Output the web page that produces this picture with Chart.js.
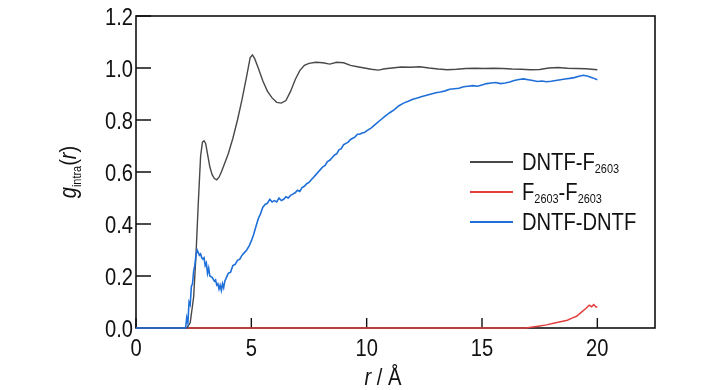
<!DOCTYPE html>
<html>
<head>
<meta charset="utf-8">
<script src="https://cdn.jsdelivr.net/npm/chart.js@4/dist/chart.umd.min.js"></script>
<style>
  html, body { margin: 0; padding: 0; background: #fff; }
  #wrap { width: 728px; height: 390px; position: relative; }
</style>
</head>
<body>
<div id="wrap"><canvas id="rdf"></canvas></div>
<script>
const FONT = '"Liberation Sans", Arial, sans-serif';
const SX = 0.84; // the source uses a narrow Helvetica, squeeze text horizontally

const xTicks = [0, 5, 10, 15, 20];
const yTicks = [0, 0.2, 0.4, 0.6, 0.8, 1.0, 1.2];

/* DNTF-F2603 */
const rBlack = [0, 2.2, 2.35, 2.5, 2.6, 2.7, 2.8, 2.88, 2.95, 3.02, 3.1, 3.2, 3.3, 3.4, 3.5, 3.6, 3.7, 3.85, 4.0, 4.2,
  4.4, 4.6, 4.8, 4.95, 5.05, 5.15, 5.3, 5.5, 5.7, 5.9, 6.1, 6.3, 6.5, 6.7, 6.9, 7.1, 7.3, 7.5, 7.8, 8.1,
  8.4, 8.7, 9.0, 9.3, 9.6, 9.9, 10.2, 10.5, 10.8, 11.1, 11.5, 11.9, 12.3, 12.7, 13.1, 13.5, 13.9, 14.3, 14.7, 15.1,
  15.5, 15.9, 16.3, 16.7, 17.1, 17.5, 17.9, 18.3, 18.7, 19.1, 19.5, 20.0];
const gBlack = [0, 0, 0.02, 0.12, 0.28, 0.48, 0.66, 0.715, 0.72, 0.71, 0.67, 0.62, 0.59, 0.575, 0.57, 0.58, 0.60, 0.635, 0.67, 0.73,
  0.80, 0.88, 0.97, 1.04, 1.05, 1.035, 1.0, 0.95, 0.91, 0.885, 0.868, 0.865, 0.875, 0.91, 0.955, 0.99, 1.01, 1.018, 1.022, 1.02,
  1.015, 1.022, 1.02, 1.01, 1.005, 1.0, 0.995, 0.992, 0.997, 1.0, 1.004, 1.003, 1.005, 1.0, 0.996, 0.993, 0.995, 0.998, 0.999, 0.998,
  0.999, 0.998, 0.996, 0.995, 0.993, 0.994, 1.0, 1.002, 0.999, 0.998, 0.997, 0.993];

/* F2603-F2603 */
const rRed = [0, 16.9, 17.2, 17.5, 17.8, 18.1, 18.4, 18.7, 18.9, 19.1, 19.3, 19.5, 19.65, 19.75, 19.85, 19.95, 20.0];
const gRed = [0, 0, 0.004, 0.008, 0.012, 0.018, 0.024, 0.03, 0.038, 0.045, 0.06, 0.075, 0.088, 0.082, 0.09, 0.08, 0.082];

/* DNTF-DNTF */
const rBlue = [0, 2.15, 2.2, 2.25, 2.3, 2.35, 2.4, 2.45, 2.5, 2.55, 2.6, 2.65, 2.7, 2.75, 2.8, 2.85, 2.9, 2.95, 3.0, 3.05,
  3.1, 3.15, 3.2, 3.3, 3.4, 3.45, 3.5, 3.55, 3.6, 3.65, 3.7, 3.75, 3.8, 3.85, 3.9, 4.0, 4.1, 4.2, 4.3, 4.4,
  4.5, 4.6, 4.7, 4.8, 4.9, 5.0, 5.1, 5.2, 5.3, 5.4, 5.5, 5.6, 5.7, 5.8, 5.9, 6.0, 6.1, 6.2, 6.3, 6.4,
  6.5, 6.6, 6.7, 6.8, 6.9, 7.0, 7.1, 7.2, 7.3, 7.4, 7.5, 7.6, 7.7, 7.8, 7.9, 8.0, 8.1, 8.2, 8.3, 8.4,
  8.5, 8.6, 8.7, 8.8, 8.9, 9.0, 9.1, 9.2, 9.3, 9.4, 9.5, 9.6, 9.7, 9.8, 9.9, 10.0, 10.2, 10.4, 10.6, 10.8,
  11.0, 11.2, 11.4, 11.6, 11.8, 12.0, 12.2, 12.4, 12.6, 12.8, 13.0, 13.2, 13.4, 13.6, 13.8, 14.0, 14.2, 14.4, 14.6, 14.8,
  15.0, 15.2, 15.4, 15.6, 15.8, 16.0, 16.2, 16.4, 16.6, 16.8, 17.0, 17.2, 17.4, 17.6, 17.8, 18.0, 18.2, 18.4, 18.6, 18.8,
  19.0, 19.2, 19.4, 19.6, 19.8, 20.0];
const gBlue = [0, 0, 0.04, 0.02, 0.10, 0.09, 0.16, 0.17, 0.22, 0.24, 0.28, 0.30, 0.29, 0.28, 0.285, 0.27, 0.265, 0.27, 0.24, 0.25,
  0.21, 0.23, 0.20, 0.195, 0.18, 0.185, 0.165, 0.17, 0.15, 0.165, 0.145, 0.17, 0.155, 0.18, 0.19, 0.21, 0.215, 0.24, 0.245, 0.26,
  0.265, 0.28, 0.29, 0.30, 0.315, 0.335, 0.36, 0.39, 0.42, 0.44, 0.465, 0.475, 0.48, 0.495, 0.485, 0.49, 0.485, 0.50, 0.49, 0.495,
  0.505, 0.50, 0.51, 0.515, 0.52, 0.53, 0.525, 0.54, 0.545, 0.555, 0.56, 0.57, 0.58, 0.59, 0.60, 0.61, 0.62, 0.625, 0.64, 0.645,
  0.655, 0.665, 0.67, 0.685, 0.69, 0.705, 0.71, 0.715, 0.725, 0.73, 0.735, 0.745, 0.745, 0.75, 0.752, 0.758, 0.77, 0.785, 0.80, 0.815,
  0.828, 0.84, 0.855, 0.865, 0.872, 0.88, 0.885, 0.89, 0.895, 0.90, 0.905, 0.908, 0.912, 0.918, 0.92, 0.922, 0.928, 0.93, 0.932, 0.93,
  0.935, 0.94, 0.942, 0.944, 0.94, 0.942, 0.946, 0.952, 0.956, 0.958, 0.955, 0.952, 0.948, 0.95, 0.947, 0.949, 0.952, 0.955, 0.958, 0.96,
  0.963, 0.968, 0.972, 0.968, 0.962, 0.955];

const series = [
  { parts: [['DNTF-F', 0], ['2603', 1]], color: '#484848', r: rBlack, g: gBlack, order: 2, width: 1.4 },
  { parts: [['F', 0], ['2603', 1], ['-F', 0], ['2603', 1]], color: '#e2403f', r: rRed, g: gRed, order: 3, width: 1.5 },
  { parts: [['DNTF-DNTF', 0]], color: '#1f6fd9', r: rBlue, g: gBlue, order: 1, width: 1.6 }
];

function pts(xs, ys){ return xs.map((x, i) => ({ x, y: ys[i] })); }

/* squeezed text; returns advance width */
function txt(ctx, s, x, y, size, style, align){
  ctx.font = (style || '') + ' ' + size + 'px ' + FONT;
  const w = ctx.measureText(s).width * SX;
  let ox = x;
  if (align === 'right') ox = x - w;
  else if (align === 'center') ox = x - w / 2;
  ctx.save();
  ctx.translate(ox, y);
  ctx.scale(SX, 1);
  ctx.textAlign = 'left';
  ctx.textBaseline = 'alphabetic';
  ctx.fillText(s, 0, 0);
  ctx.restore();
  return w;
}
function measure(ctx, s, size, style){
  ctx.font = (style || '') + ' ' + size + 'px ' + FONT;
  return ctx.measureText(s).width * SX;
}

/* frame + inward ticks under the curves, text on top */
const framePlugin = {
  id: 'frame',
  beforeDatasetsDraw(chart){
    const { ctx, chartArea: a, scales: { x, y } } = chart;
    ctx.save();
    ctx.strokeStyle = '#111';
    ctx.lineWidth = 1.6;
    ctx.strokeRect(a.left, a.top, a.right - a.left, a.bottom - a.top);
    ctx.lineWidth = 1.4;
    ctx.beginPath();
    xTicks.forEach(v => { const px = x.getPixelForValue(v); ctx.moveTo(px, a.bottom); ctx.lineTo(px, a.bottom - 10); });
    yTicks.forEach(v => { const py = y.getPixelForValue(v); ctx.moveTo(a.left, py); ctx.lineTo(a.left + 15, py); });
    ctx.stroke();
    ctx.restore();
  },
  afterDraw(chart){
    const { ctx, chartArea: a, scales: { x, y } } = chart;
    ctx.save();
    ctx.fillStyle = '#111';

    /* tick labels */
    yTicks.forEach(v => txt(ctx, v.toFixed(1), a.left - 3, y.getPixelForValue(v) + 8.5, 24, '', 'right'));
    xTicks.forEach(v => txt(ctx, String(v), x.getPixelForValue(v), a.bottom + 28, 24, '', 'center'));

    /* x title: r / Å */
    const tw = measure(ctx, 'r', 24, 'italic') + measure(ctx, ' / Å', 24, '');
    let sx = 383 - tw / 2;
    sx += txt(ctx, 'r', sx, 385, 24, 'italic');
    txt(ctx, ' / Å', sx, 385, 24, '');

    /* y title: g_intra(r), rotated */
    ctx.save();
    ctx.translate(76, 172);
    ctx.rotate(-Math.PI / 2);
    const yt = [['g', 24, 'italic', 0], ['intra', 13, '', 5], ['(', 24, '', 0], ['r', 24, 'italic', 0], [')', 24, '', 0]];
    let total = 0;
    yt.forEach(p => { total += measure(ctx, p[0], p[1], p[2]); });
    let cx = -total / 2;
    yt.forEach(p => { cx += txt(ctx, p[0], cx, p[3], p[1], p[2]); });
    ctx.restore();

    /* legend */
    const rows = [162, 192, 222];
    series.forEach((s, i) => {
      const yy = rows[i];
      ctx.strokeStyle = s.color;
      ctx.lineWidth = 1.8;
      ctx.beginPath(); ctx.moveTo(470, yy); ctx.lineTo(513, yy); ctx.stroke();
      let tx = 522;
      s.parts.forEach(([t, isSub]) => {
        tx += isSub ? txt(ctx, t, tx, yy + 11, 13, '') : txt(ctx, t, tx, yy + 8, 24, '');
      });
    });
    ctx.restore();
  }
};

new Chart(document.getElementById('rdf'), {
  type: 'line',
  data: {
    datasets: series.map(s => ({
      data: pts(s.r, s.g),
      borderColor: s.color,
      borderWidth: s.width,
      pointRadius: 0,
      tension: 0,
      fill: false,
      order: s.order,
      clip: 4
    }))
  },
  options: {
    responsive: true,
    maintainAspectRatio: false,
    animation: false,
    events: [],
    layout: { padding: { top: 16, right: 73, left: 0, bottom: 0 } },
    plugins: { legend: { display: false }, tooltip: { enabled: false } },
    scales: {
      x: {
        type: 'linear', min: 0, max: 22.5,
        afterBuildTicks: sc => { sc.ticks = xTicks.map(v => ({ value: v })); },
        afterFit: sc => { sc.height = 62; },
        grid: { display: false, drawTicks: false },
        border: { display: false },
        ticks: { display: false }
      },
      y: {
        type: 'linear', min: 0, max: 1.2,
        afterBuildTicks: sc => { sc.ticks = yTicks.map(v => ({ value: v })); },
        afterFit: sc => { sc.width = 136; },
        grid: { display: false, drawTicks: false },
        border: { display: false },
        ticks: { display: false }
      }
    }
  },
  plugins: [framePlugin]
});
</script>
</body>
</html>
